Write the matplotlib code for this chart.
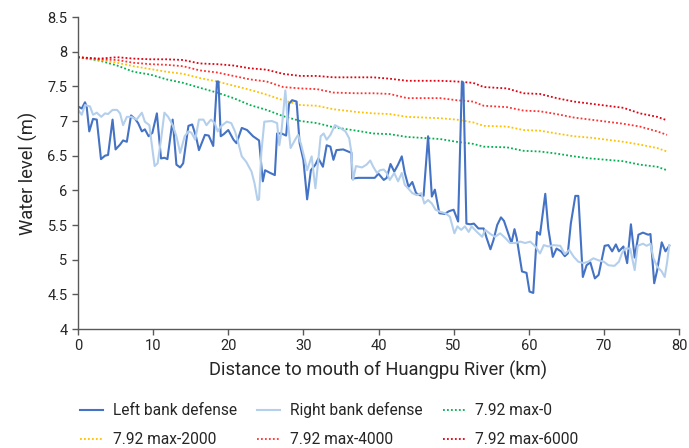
import matplotlib
matplotlib.use("Agg")
import matplotlib.pyplot as plt

plt.rcParams['font.family'] = ['Roboto', 'DejaVu Sans']

# ---------------- data ----------------
left_x = [0, 0.5, 0.93, 1.15, 1.5, 2.0, 2.5, 3.06, 3.6, 4.0, 4.6, 5.0, 5.6, 6.0, 6.5, 7.06, 7.6, 8.0,
          8.5, 8.9, 9.4, 9.9, 10.5, 11.05, 11.5, 11.9, 12.6, 13.1, 13.6, 14.0, 14.7, 15.2, 15.7, 16.1,
          16.9, 17.4, 18.0, 18.5, 18.7, 19.0, 19.4, 20.0, 20.7, 21.1, 21.8, 22.5, 23.3, 24.1, 24.6,
          24.9, 25.6, 26.2, 26.5, 27.1, 27.7, 28.1, 28.5, 29.1, 29.5, 30.0, 30.5, 31.0, 31.6, 32.0,
          32.6, 33.1, 33.6, 34.0, 34.4, 35.3, 36.4, 36.5, 37.3, 39.5, 40.0, 40.7, 41.1, 41.6, 42.1,
          42.6, 43.1, 43.5, 44.0, 44.5, 45.0, 45.5, 46.0, 46.6, 47.1, 47.5, 48.1, 48.8, 49.4, 50.0,
          50.6, 51.1, 51.3, 51.7, 52.2, 52.7, 53.3, 54.0, 54.4, 54.9, 55.3, 55.8, 56.3, 56.7, 57.2,
          57.7, 58.1, 58.4, 59.1, 59.7, 60.1, 60.6, 61.1, 61.5, 62.2, 62.6, 63.2, 63.7, 64.3, 64.8,
          65.2, 65.6, 66.2, 66.6, 67.2, 67.7, 68.2, 68.8, 69.3, 70.1, 70.6, 71.1, 71.6, 72.0, 72.6,
          73.1, 73.6, 74.1, 74.6, 75.2, 75.9, 76.2, 76.7, 77.1, 77.7, 78.2, 78.7]
left_y = [7.21, 7.18, 7.27, 7.21, 6.85, 7.03, 7.02, 6.45, 6.50, 6.51, 7.02, 6.59, 6.66, 6.72, 6.70, 7.08,
          7.03, 6.97, 6.85, 6.88, 6.78, 6.83, 7.11, 6.46, 6.47, 6.45, 7.02, 6.37, 6.33, 6.39, 6.93, 6.95,
          6.78, 6.58, 6.80, 6.79, 6.64, 7.57, 7.57, 6.78, 6.81, 6.87, 6.73, 6.68, 6.90, 6.87, 6.78, 6.72,
          6.13, 6.29, 6.25, 6.22, 6.82, 6.82, 6.79, 7.25, 7.30, 7.28, 6.68, 6.44, 5.87, 6.29, 6.37, 6.46,
          6.34, 6.65, 6.63, 6.44, 6.58, 6.59, 6.54, 6.17, 6.18, 6.18, 6.24, 6.15, 6.18, 6.38, 6.27, 6.37,
          6.49, 6.25, 6.05, 6.12, 5.96, 5.93, 5.92, 6.78, 5.91, 6.01, 5.67, 5.66, 5.70, 5.72, 5.55, 7.57,
          7.55, 5.52, 5.51, 5.52, 5.45, 5.45, 5.31, 5.15, 5.28, 5.50, 5.61, 5.56, 5.40, 5.24, 5.44, 5.31,
          4.83, 4.81, 4.54, 4.52, 5.40, 5.36, 5.95, 5.45, 5.04, 5.16, 5.12, 5.05, 5.09, 5.52, 5.92, 5.92,
          4.75, 4.92, 4.96, 4.73, 4.78, 5.20, 5.21, 5.12, 5.22, 5.12, 5.19, 4.95, 5.51, 5.03, 5.36, 5.39,
          5.36, 5.37, 4.66, 4.85, 5.25, 5.12, 5.20]

right_x = [0, 0.5, 0.93, 1.6, 2.0, 2.5, 3.1, 3.6, 4.0, 4.6, 5.2, 5.6, 6.0, 6.5, 7.1, 7.8, 8.5, 8.9, 9.5,
           9.8, 10.2, 10.6, 11.05, 11.5, 12.0, 12.6, 13.1, 13.6, 14.2, 14.7, 15.1, 15.6, 16.1, 16.7,
           17.1, 17.7, 18.2, 18.6, 19.0, 19.8, 20.4, 20.9, 21.3, 21.8, 22.4, 23.1, 23.5, 23.9, 24.1,
           24.4, 24.8, 25.8, 26.5, 26.8, 27.1, 27.6, 27.9, 28.3, 28.9, 29.3, 29.7, 30.2, 30.5, 31.1,
           31.6, 31.9, 32.3, 32.7, 33.1, 33.6, 34.2, 34.9, 35.6, 36.1, 36.4, 36.6, 37.0, 37.8, 38.4,
           38.9, 39.3, 39.8, 40.2, 40.7, 41.1, 41.5, 42.1, 42.6, 43.1, 43.5, 44.1, 44.5, 45.1, 45.7,
           46.1, 46.6, 47.1, 47.6, 48.2, 48.9, 49.5, 50.1, 50.5, 51.0, 51.5, 52.0, 52.4, 53.1, 53.8,
           54.2, 54.9, 55.5, 56.2, 56.9, 57.5, 58.2, 58.9, 59.5, 60.2, 60.9, 61.5, 62.0, 62.6, 63.3,
           64.2, 64.8, 65.4, 66.0, 66.6, 67.3, 67.9, 68.6, 69.3, 70.0, 70.6, 71.4, 72.0, 72.4, 72.8,
           73.5, 74.1, 74.5, 75.2, 75.7, 76.2, 76.6, 77.1, 77.7, 78.1, 78.4, 78.7]
right_y = [7.16, 7.09, 7.23, 7.21, 7.09, 7.12, 7.06, 7.11, 7.10, 7.16, 7.16, 7.11, 6.94, 7.06, 7.06, 7.02,
           7.12, 6.99, 6.94, 6.68, 6.35, 6.39, 6.73, 7.12, 7.06, 6.94, 6.78, 6.54, 6.78, 6.85, 6.83, 6.73,
           7.02, 7.02, 6.94, 7.02, 6.97, 6.85, 6.92, 6.99, 6.97, 6.85, 6.70, 6.49, 6.41, 6.27, 6.10, 5.86,
           5.87, 6.54, 6.99, 7.00, 6.97, 6.65, 6.87, 7.44, 7.02, 6.61, 6.73, 6.80, 6.66, 6.44, 6.29, 6.49,
           6.03, 6.34, 6.78, 6.82, 6.73, 6.80, 6.94, 6.90, 6.85, 6.75, 6.54, 6.15, 6.35, 6.33, 6.37, 6.43,
           6.34, 6.25, 6.29, 6.30, 6.25, 6.15, 6.25, 6.13, 6.25, 6.08, 6.01, 5.96, 5.93, 5.96, 5.81, 5.86,
           5.81, 5.72, 5.69, 5.67, 5.62, 5.38, 5.48, 5.43, 5.48, 5.40, 5.48, 5.40, 5.33, 5.43, 5.37, 5.33,
           5.38, 5.31, 5.24, 5.24, 5.26, 5.24, 5.26, 5.19, 5.09, 5.21, 5.19, 5.21, 5.20, 5.08, 5.14, 5.04,
           4.97, 4.95, 4.97, 5.02, 4.99, 4.97, 4.92, 4.91, 4.97, 5.09, 5.16, 5.16, 4.85, 5.20, 5.23, 5.20,
           5.23, 5.02, 4.90, 4.83, 4.75, 4.95, 5.21]

design_x = [0, 2.9, 5.2, 7.4, 9.6, 11.8, 14.0, 16.2, 18.5, 20.7, 22.9, 25.1, 27.3, 29.6, 31.8, 34.0,
            37.1, 39.3, 41.5, 43.8, 48.2, 50.4, 52.6, 54.0, 57.1, 59.3, 61.5, 63.7, 66.0, 68.2, 70.4,
            72.6, 74.8, 77.1, 78.4]
max0 = [7.92, 7.87, 7.80, 7.71, 7.67, 7.60, 7.55, 7.48, 7.41, 7.33, 7.23, 7.16, 7.07, 7.00, 6.97, 6.91,
        6.86, 6.82, 6.81, 6.77, 6.74, 6.70, 6.67, 6.63, 6.62, 6.57, 6.56, 6.53, 6.49, 6.46, 6.44, 6.42,
        6.37, 6.34, 6.29]
max2000 = [7.92, 7.88, 7.84, 7.79, 7.75, 7.71, 7.68, 7.62, 7.57, 7.51, 7.45, 7.38, 7.30, 7.23, 7.22,
           7.17, 7.13, 7.11, 7.10, 7.06, 7.04, 7.02, 6.98, 6.93, 6.92, 6.87, 6.86, 6.82, 6.78, 6.76,
           6.73, 6.70, 6.66, 6.61, 6.56]
max4000 = [7.92, 7.89, 7.88, 7.84, 7.82, 7.81, 7.79, 7.73, 7.70, 7.65, 7.60, 7.57, 7.49, 7.47, 7.46,
           7.41, 7.40, 7.40, 7.39, 7.33, 7.33, 7.30, 7.28, 7.22, 7.20, 7.15, 7.14, 7.10, 7.05, 7.02,
           6.99, 6.96, 6.92, 6.85, 6.80]
max6000 = [7.92, 7.90, 7.92, 7.90, 7.89, 7.89, 7.88, 7.83, 7.82, 7.80, 7.76, 7.74, 7.68, 7.65, 7.65,
           7.63, 7.63, 7.63, 7.61, 7.58, 7.58, 7.57, 7.55, 7.49, 7.47, 7.40, 7.39, 7.33, 7.28, 7.25,
           7.22, 7.19, 7.11, 7.06, 7.01]

labels = ["Left bank defense", "Right bank defense", "7.92 max-0",
          "7.92 max-2000", "7.92 max-4000", "7.92 max-6000"]
x_ticks = [0, 10, 20, 30, 40, 50, 60, 70, 80]
y_ticks = [4, 4.5, 5, 5.5, 6, 6.5, 7, 7.5, 8, 8.5]
y_ticklabels = ["4", "4.5", "5", "5.5", "6", "6.5", "7", "7.5", "8", "8.5"]

# ---------------- figure ----------------
fig = plt.figure(figsize=(6.89, 4.48), dpi=100)
ax = fig.add_axes([78/689, 1-329/448, (679-78)/689, (329-17)/448])

text_c = "#262626"
spine_c = "#595959"

h_g, = ax.plot(design_x, max0, ls=(0, (1, 1.2)), color="#00B050", lw=1.3, label=labels[2])
h_y, = ax.plot(design_x, max2000, ls=(0, (1, 1.2)), color="#FFC000", lw=1.3, label=labels[3])
h_r4, = ax.plot(design_x, max4000, ls=(0, (1, 1.2)), color="#FF3030", lw=1.3, label=labels[4])
h_r6, = ax.plot(design_x, max6000, ls=(0, (1, 1.2)), color="#E00010", lw=1.3, label=labels[5])
h_l, = ax.plot(left_x, left_y, color="#4472C4", lw=1.5, label=labels[0], solid_joinstyle='round')
h_r, = ax.plot(right_x, right_y, color="#B4CFEC", lw=1.5, label=labels[1], solid_joinstyle='round')

ax.set_xlim(0, 80)
ax.set_ylim(4, 8.5)
ax.set_xticks(x_ticks)
ax.set_yticks(y_ticks)
ax.set_yticklabels(y_ticklabels)

for s in ["top", "right"]:
    ax.spines[s].set_visible(False)
for s in ["left", "bottom"]:
    ax.spines[s].set_color(spine_c)
    ax.spines[s].set_linewidth(1.0)
ax.tick_params(axis="both", direction="out", length=4.5, width=1.0, color=spine_c,
               labelsize=10.5, labelcolor=text_c, pad=3)

ax.set_xlabel("Distance to mouth of Huangpu River (km)", fontsize=13.2, color=text_c, labelpad=5)
ax.set_ylabel("Water level (m)", fontsize=13.2, color=text_c, labelpad=7)

handles = [h_l, h_y, h_r, h_r4, h_g, h_r6]
leg_labels = [h.get_label() for h in handles]
leg = fig.legend(handles, leg_labels, ncol=3, loc="upper left",
                 bbox_to_anchor=(80/689, 1-402/448), frameon=False, fontsize=11.2,
                 handlelength=1.45, handletextpad=0.65, columnspacing=1.3,
                 labelspacing=0.9, borderpad=0, borderaxespad=0)
for t in leg.get_texts():
    t.set_color(text_c)

fig.savefig("out.png", dpi=100)
